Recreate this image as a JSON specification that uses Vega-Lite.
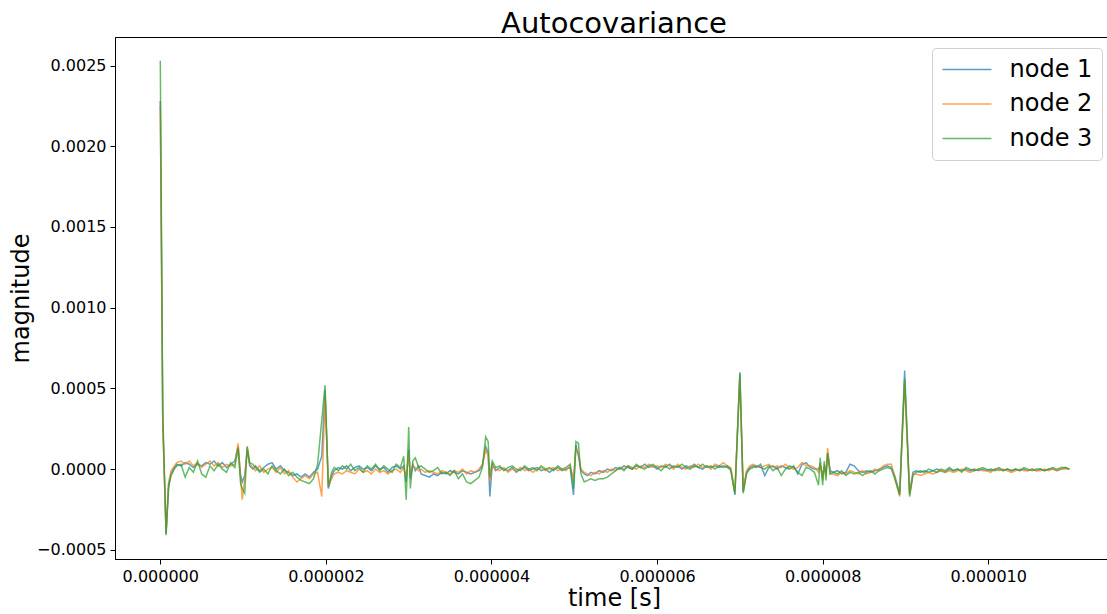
{
"$schema":"https://vega.github.io/schema/vega-lite/v6.json",
"autosize":{"type":"none"},
"padding":{"left":115,"top":37,"right":0,"bottom":55},
"width":992,"height":522,
"background":"white",
"title":{"text":"Autocovariance","font":"DejaVu Sans","fontSize":29,"fontWeight":"normal","color":"black","anchor":"middle","dx":3,"offset":-2},
"config":{"view":{"stroke":"black","strokeWidth":1},"font":"DejaVu Sans"},
"data":{"values":[
{"t":0,"node 1":228e-5,"node 2":225e-5,"node 3":253e-5},
{"t":0.03e-6,"node 1":30e-5,"node 2":27e-5,"node 3":35e-5},
{"t":0.07e-6,"node 1":-40e-5,"node 2":-39e-5,"node 3":-41e-5},
{"t":0.10e-6,"node 1":-12e-5,"node 2":-8e-5,"node 3":-10e-5},
{"t":0.13e-6,"node 1":-3e-5,"node 2":-1e-5,"node 3":-4e-5},
{"t":0.17e-6,"node 1":1e-5,"node 2":2e-5,"node 3":0},
{"t":0.20e-6,"node 1":3e-5,"node 2":4e-5,"node 3":2e-5},
{"t":0.25e-6,"node 1":2e-5,"node 2":5e-5,"node 3":3e-5},
{"t":0.30e-6,"node 1":4e-5,"node 2":3e-5,"node 3":-5e-5},
{"t":0.35e-6,"node 1":3e-5,"node 2":5e-5,"node 3":1e-5},
{"t":0.40e-6,"node 1":1e-5,"node 2":2e-5,"node 3":-2e-5},
{"t":0.45e-6,"node 1":3e-5,"node 2":4e-5,"node 3":5e-5},
{"t":0.50e-6,"node 1":2e-5,"node 2":1e-5,"node 3":-3e-5},
{"t":0.55e-6,"node 1":4e-5,"node 2":3e-5,"node 3":-5e-5},
{"t":0.60e-6,"node 1":3e-5,"node 2":5e-5,"node 3":2e-5},
{"t":0.65e-6,"node 1":5e-5,"node 2":2e-5,"node 3":-1e-5},
{"t":0.70e-6,"node 1":2e-5,"node 2":4e-5,"node 3":3e-5},
{"t":0.75e-6,"node 1":4e-5,"node 2":1e-5,"node 3":0},
{"t":0.80e-6,"node 1":1e-5,"node 2":3e-5,"node 3":-2e-5},
{"t":0.85e-6,"node 1":3e-5,"node 2":2e-5,"node 3":4e-5},
{"t":0.90e-6,"node 1":5e-5,"node 2":3e-5,"node 3":1e-5},
{"t":0.94e-6,"node 1":14e-5,"node 2":16e-5,"node 3":13e-5},
{"t":0.97e-6,"node 1":-4e-5,"node 2":-6e-5,"node 3":-9e-5},
{"t":0.99e-6,"node 1":-8e-5,"node 2":-19e-5,"node 3":-12e-5},
{"t":1.02e-6,"node 1":-4e-5,"node 2":-6e-5,"node 3":-15e-5},
{"t":1.05e-6,"node 1":12e-5,"node 2":14e-5,"node 3":14e-5},
{"t":1.08e-6,"node 1":2e-5,"node 2":3e-5,"node 3":4e-5},
{"t":1.12e-6,"node 1":0,"node 2":1e-5,"node 3":3e-5},
{"t":1.15e-6,"node 1":2e-5,"node 2":-1e-5,"node 3":1e-5},
{"t":1.20e-6,"node 1":-1e-5,"node 2":2e-5,"node 3":-2e-5},
{"t":1.25e-6,"node 1":1e-5,"node 2":-2e-5,"node 3":0},
{"t":1.30e-6,"node 1":3e-5,"node 2":0,"node 3":-3e-5},
{"t":1.35e-6,"node 1":4e-5,"node 2":1e-5,"node 3":2e-5},
{"t":1.40e-6,"node 1":0,"node 2":-2e-5,"node 3":-1e-5},
{"t":1.45e-6,"node 1":2e-5,"node 2":1e-5,"node 3":-3e-5},
{"t":1.50e-6,"node 1":-1e-5,"node 2":-3e-5,"node 3":0},
{"t":1.55e-6,"node 1":-2e-5,"node 2":-1e-5,"node 3":-4e-5},
{"t":1.60e-6,"node 1":-4e-5,"node 2":-5e-5,"node 3":-2e-5},
{"t":1.65e-6,"node 1":-3e-5,"node 2":-8e-5,"node 3":-5e-5},
{"t":1.70e-6,"node 1":-5e-5,"node 2":-6e-5,"node 3":-7e-5},
{"t":1.75e-6,"node 1":-3e-5,"node 2":-4e-5,"node 3":-8e-5},
{"t":1.80e-6,"node 1":-5e-5,"node 2":-6e-5,"node 3":-9e-5},
{"t":1.85e-6,"node 1":-2e-5,"node 2":-3e-5,"node 3":-6e-5},
{"t":1.90e-6,"node 1":0,"node 2":-2e-5,"node 3":3e-5},
{"t":1.95e-6,"node 1":8e-5,"node 2":-17e-5,"node 3":30e-5},
{"t":1.99e-6,"node 1":49e-5,"node 2":45e-5,"node 3":52e-5},
{"t":2.03e-6,"node 1":-12e-5,"node 2":-10e-5,"node 3":-11e-5},
{"t":2.07e-6,"node 1":-4e-5,"node 2":-6e-5,"node 3":-2e-5},
{"t":2.10e-6,"node 1":-1e-5,"node 2":-3e-5,"node 3":1e-5},
{"t":2.15e-6,"node 1":1e-5,"node 2":-2e-5,"node 3":-1e-5},
{"t":2.20e-6,"node 1":0,"node 2":-3e-5,"node 3":2e-5},
{"t":2.25e-6,"node 1":2e-5,"node 2":-1e-5,"node 3":0},
{"t":2.30e-6,"node 1":-1e-5,"node 2":-2e-5,"node 3":3e-5},
{"t":2.35e-6,"node 1":1e-5,"node 2":-3e-5,"node 3":-1e-5},
{"t":2.40e-6,"node 1":2e-5,"node 2":0,"node 3":1e-5},
{"t":2.45e-6,"node 1":0,"node 2":-2e-5,"node 3":-2e-5},
{"t":2.50e-6,"node 1":1e-5,"node 2":-1e-5,"node 3":2e-5},
{"t":2.55e-6,"node 1":-1e-5,"node 2":-3e-5,"node 3":0},
{"t":2.60e-6,"node 1":2e-5,"node 2":0,"node 3":3e-5},
{"t":2.65e-6,"node 1":0,"node 2":-2e-5,"node 3":-1e-5},
{"t":2.70e-6,"node 1":1e-5,"node 2":-1e-5,"node 3":2e-5},
{"t":2.75e-6,"node 1":-2e-5,"node 2":-3e-5,"node 3":0},
{"t":2.80e-6,"node 1":1e-5,"node 2":-1e-5,"node 3":-2e-5},
{"t":2.85e-6,"node 1":2e-5,"node 2":0,"node 3":3e-5},
{"t":2.90e-6,"node 1":0,"node 2":-2e-5,"node 3":1e-5},
{"t":2.94e-6,"node 1":2e-5,"node 2":1e-5,"node 3":8e-5},
{"t":2.97e-6,"node 1":-8e-5,"node 2":-5e-5,"node 3":-19e-5},
{"t":3.00e-6,"node 1":12e-5,"node 2":9e-5,"node 3":26e-5},
{"t":3.02e-6,"node 1":-6e-5,"node 2":-4e-5,"node 3":-12e-5},
{"t":3.05e-6,"node 1":3e-5,"node 2":2e-5,"node 3":5e-5},
{"t":3.08e-6,"node 1":-1e-5,"node 2":1e-5,"node 3":7e-5},
{"t":3.12e-6,"node 1":2e-5,"node 2":-1e-5,"node 3":1e-5},
{"t":3.15e-6,"node 1":-3e-5,"node 2":0,"node 3":2e-5},
{"t":3.20e-6,"node 1":-4e-5,"node 2":-2e-5,"node 3":0},
{"t":3.25e-6,"node 1":-5e-5,"node 2":-1e-5,"node 3":-2e-5},
{"t":3.30e-6,"node 1":-3e-5,"node 2":-2e-5,"node 3":-1e-5},
{"t":3.35e-6,"node 1":-4e-5,"node 2":-3e-5,"node 3":1e-5},
{"t":3.40e-6,"node 1":-2e-5,"node 2":-1e-5,"node 3":-3e-5},
{"t":3.45e-6,"node 1":-3e-5,"node 2":-2e-5,"node 3":-2e-5},
{"t":3.50e-6,"node 1":-1e-5,"node 2":-3e-5,"node 3":-4e-5},
{"t":3.55e-6,"node 1":-2e-5,"node 2":-1e-5,"node 3":-1e-5},
{"t":3.60e-6,"node 1":-3e-5,"node 2":-2e-5,"node 3":-6e-5},
{"t":3.65e-6,"node 1":-1e-5,"node 2":0,"node 3":-3e-5},
{"t":3.70e-6,"node 1":-2e-5,"node 2":-3e-5,"node 3":-8e-5},
{"t":3.75e-6,"node 1":-3e-5,"node 2":-1e-5,"node 3":-9e-5},
{"t":3.80e-6,"node 1":-2e-5,"node 2":-2e-5,"node 3":-7e-5},
{"t":3.85e-6,"node 1":-1e-5,"node 2":0,"node 3":-5e-5},
{"t":3.89e-6,"node 1":2e-5,"node 2":3e-5,"node 3":1e-5},
{"t":3.93e-6,"node 1":14e-5,"node 2":12e-5,"node 3":20e-5},
{"t":3.96e-6,"node 1":10e-5,"node 2":8e-5,"node 3":17e-5},
{"t":3.98e-6,"node 1":-17e-5,"node 2":-8e-5,"node 3":-5e-5},
{"t":4.01e-6,"node 1":3e-5,"node 2":2e-5,"node 3":5e-5},
{"t":4.05e-6,"node 1":-1e-5,"node 2":0,"node 3":1e-5},
{"t":4.10e-6,"node 1":1e-5,"node 2":-1e-5,"node 3":2e-5},
{"t":4.15e-6,"node 1":0,"node 2":1e-5,"node 3":-1e-5},
{"t":4.20e-6,"node 1":-1e-5,"node 2":-2e-5,"node 3":1e-5},
{"t":4.25e-6,"node 1":1e-5,"node 2":0,"node 3":2e-5},
{"t":4.30e-6,"node 1":-2e-5,"node 2":-1e-5,"node 3":0},
{"t":4.35e-6,"node 1":0,"node 2":1e-5,"node 3":-1e-5},
{"t":4.40e-6,"node 1":1e-5,"node 2":-1e-5,"node 3":2e-5},
{"t":4.45e-6,"node 1":-1e-5,"node 2":0,"node 3":0},
{"t":4.50e-6,"node 1":0,"node 2":-2e-5,"node 3":1e-5},
{"t":4.55e-6,"node 1":1e-5,"node 2":0,"node 3":-1e-5},
{"t":4.60e-6,"node 1":-1e-5,"node 2":1e-5,"node 3":2e-5},
{"t":4.65e-6,"node 1":0,"node 2":-1e-5,"node 3":0},
{"t":4.70e-6,"node 1":-2e-5,"node 2":0,"node 3":1e-5},
{"t":4.75e-6,"node 1":0,"node 2":1e-5,"node 3":-1e-5},
{"t":4.80e-6,"node 1":1e-5,"node 2":-1e-5,"node 3":2e-5},
{"t":4.85e-6,"node 1":-1e-5,"node 2":0,"node 3":0},
{"t":4.90e-6,"node 1":0,"node 2":-1e-5,"node 3":1e-5},
{"t":4.95e-6,"node 1":1e-5,"node 2":2e-5,"node 3":3e-5},
{"t":4.99e-6,"node 1":-16e-5,"node 2":-6e-5,"node 3":-12e-5},
{"t":5.02e-6,"node 1":15e-5,"node 2":12e-5,"node 3":17e-5},
{"t":5.05e-6,"node 1":8e-5,"node 2":10e-5,"node 3":16e-5},
{"t":5.08e-6,"node 1":-1e-5,"node 2":0,"node 3":-3e-5},
{"t":5.12e-6,"node 1":-3e-5,"node 2":-2e-5,"node 3":-8e-5},
{"t":5.16e-6,"node 1":-4e-5,"node 2":-3e-5,"node 3":-7e-5},
{"t":5.20e-6,"node 1":-2e-5,"node 2":-4e-5,"node 3":-6e-5},
{"t":5.25e-6,"node 1":-3e-5,"node 2":-2e-5,"node 3":-7e-5},
{"t":5.30e-6,"node 1":-1e-5,"node 2":-3e-5,"node 3":-6e-5},
{"t":5.35e-6,"node 1":-2e-5,"node 2":-1e-5,"node 3":-6e-5},
{"t":5.40e-6,"node 1":0,"node 2":-2e-5,"node 3":-5e-5},
{"t":5.45e-6,"node 1":-1e-5,"node 2":0,"node 3":-3e-5},
{"t":5.50e-6,"node 1":1e-5,"node 2":-1e-5,"node 3":-1e-5},
{"t":5.55e-6,"node 1":0,"node 2":1e-5,"node 3":1e-5},
{"t":5.60e-6,"node 1":2e-5,"node 2":0,"node 3":-1e-5},
{"t":5.65e-6,"node 1":1e-5,"node 2":2e-5,"node 3":2e-5},
{"t":5.70e-6,"node 1":0,"node 2":1e-5,"node 3":0},
{"t":5.75e-6,"node 1":2e-5,"node 2":0,"node 3":3e-5},
{"t":5.80e-6,"node 1":1e-5,"node 2":2e-5,"node 3":1e-5},
{"t":5.85e-6,"node 1":3e-5,"node 2":1e-5,"node 3":0},
{"t":5.90e-6,"node 1":1e-5,"node 2":3e-5,"node 3":2e-5},
{"t":5.95e-6,"node 1":2e-5,"node 2":1e-5,"node 3":3e-5},
{"t":6.00e-6,"node 1":0,"node 2":2e-5,"node 3":1e-5},
{"t":6.05e-6,"node 1":2e-5,"node 2":1e-5,"node 3":-1e-5},
{"t":6.10e-6,"node 1":1e-5,"node 2":3e-5,"node 3":2e-5},
{"t":6.15e-6,"node 1":3e-5,"node 2":2e-5,"node 3":0},
{"t":6.20e-6,"node 1":1e-5,"node 2":0,"node 3":2e-5},
{"t":6.25e-6,"node 1":2e-5,"node 2":3e-5,"node 3":1e-5},
{"t":6.30e-6,"node 1":0,"node 2":1e-5,"node 3":3e-5},
{"t":6.35e-6,"node 1":2e-5,"node 2":0,"node 3":1e-5},
{"t":6.40e-6,"node 1":1e-5,"node 2":2e-5,"node 3":0},
{"t":6.45e-6,"node 1":3e-5,"node 2":1e-5,"node 3":2e-5},
{"t":6.50e-6,"node 1":1e-5,"node 2":3e-5,"node 3":1e-5},
{"t":6.55e-6,"node 1":0,"node 2":1e-5,"node 3":3e-5},
{"t":6.60e-6,"node 1":2e-5,"node 2":2e-5,"node 3":1e-5},
{"t":6.65e-6,"node 1":1e-5,"node 2":0,"node 3":2e-5},
{"t":6.70e-6,"node 1":2e-5,"node 2":3e-5,"node 3":0},
{"t":6.75e-6,"node 1":1e-5,"node 2":2e-5,"node 3":2e-5},
{"t":6.80e-6,"node 1":2e-5,"node 2":4e-5,"node 3":1e-5},
{"t":6.85e-6,"node 1":1e-5,"node 2":2e-5,"node 3":2e-5},
{"t":6.89e-6,"node 1":0,"node 2":1e-5,"node 3":-1e-5},
{"t":6.94e-6,"node 1":-16e-5,"node 2":-14e-5,"node 3":-15e-5},
{"t":7.00e-6,"node 1":60e-5,"node 2":57e-5,"node 3":59e-5},
{"t":7.04e-6,"node 1":-14e-5,"node 2":-13e-5,"node 3":-15e-5},
{"t":7.08e-6,"node 1":-2e-5,"node 2":-1e-5,"node 3":-3e-5},
{"t":7.12e-6,"node 1":1e-5,"node 2":2e-5,"node 3":0},
{"t":7.16e-6,"node 1":2e-5,"node 2":3e-5,"node 3":1e-5},
{"t":7.20e-6,"node 1":1e-5,"node 2":2e-5,"node 3":2e-5},
{"t":7.25e-6,"node 1":3e-5,"node 2":1e-5,"node 3":1e-5},
{"t":7.30e-6,"node 1":-4e-5,"node 2":2e-5,"node 3":0},
{"t":7.35e-6,"node 1":1e-5,"node 2":3e-5,"node 3":2e-5},
{"t":7.40e-6,"node 1":2e-5,"node 2":1e-5,"node 3":-1e-5},
{"t":7.45e-6,"node 1":0,"node 2":2e-5,"node 3":1e-5},
{"t":7.50e-6,"node 1":2e-5,"node 2":1e-5,"node 3":-4e-5},
{"t":7.55e-6,"node 1":1e-5,"node 2":3e-5,"node 3":0},
{"t":7.60e-6,"node 1":0,"node 2":1e-5,"node 3":2e-5},
{"t":7.65e-6,"node 1":2e-5,"node 2":0,"node 3":1e-5},
{"t":7.70e-6,"node 1":-3e-5,"node 2":1e-5,"node 3":-2e-5},
{"t":7.75e-6,"node 1":3e-5,"node 2":4e-5,"node 3":-4e-5},
{"t":7.80e-6,"node 1":4e-5,"node 2":2e-5,"node 3":1e-5},
{"t":7.85e-6,"node 1":1e-5,"node 2":2e-5,"node 3":0},
{"t":7.90e-6,"node 1":0,"node 2":1e-5,"node 3":-2e-5},
{"t":7.95e-6,"node 1":0,"node 2":-2e-5,"node 3":-10e-5},
{"t":7.97e-6,"node 1":2e-5,"node 2":4e-5,"node 3":7e-5},
{"t":8.00e-6,"node 1":-3e-5,"node 2":-7e-5,"node 3":-10e-5},
{"t":8.02e-6,"node 1":1e-5,"node 2":3e-5,"node 3":5e-5},
{"t":8.04e-6,"node 1":-2e-5,"node 2":-4e-5,"node 3":-7e-5},
{"t":8.06e-6,"node 1":10e-5,"node 2":13e-5,"node 3":10e-5},
{"t":8.09e-6,"node 1":-1e-5,"node 2":-3e-5,"node 3":-3e-5},
{"t":8.13e-6,"node 1":-2e-5,"node 2":-3e-5,"node 3":-2e-5},
{"t":8.18e-6,"node 1":-1e-5,"node 2":-4e-5,"node 3":-3e-5},
{"t":8.23e-6,"node 1":-3e-5,"node 2":-2e-5,"node 3":-1e-5},
{"t":8.28e-6,"node 1":-2e-5,"node 2":-3e-5,"node 3":-4e-5},
{"t":8.33e-6,"node 1":3e-5,"node 2":-1e-5,"node 3":-2e-5},
{"t":8.38e-6,"node 1":2e-5,"node 2":-2e-5,"node 3":-3e-5},
{"t":8.43e-6,"node 1":-1e-5,"node 2":-3e-5,"node 3":-2e-5},
{"t":8.48e-6,"node 1":-2e-5,"node 2":-1e-5,"node 3":-4e-5},
{"t":8.53e-6,"node 1":-1e-5,"node 2":-3e-5,"node 3":-2e-5},
{"t":8.58e-6,"node 1":-2e-5,"node 2":-2e-5,"node 3":-1e-5},
{"t":8.63e-6,"node 1":-1e-5,"node 2":0,"node 3":-3e-5},
{"t":8.68e-6,"node 1":0,"node 2":-1e-5,"node 3":-1e-5},
{"t":8.73e-6,"node 1":1e-5,"node 2":2e-5,"node 3":0},
{"t":8.78e-6,"node 1":2e-5,"node 2":3e-5,"node 3":1e-5},
{"t":8.83e-6,"node 1":1e-5,"node 2":3e-5,"node 3":0},
{"t":8.87e-6,"node 1":-4e-5,"node 2":-5e-5,"node 3":-6e-5},
{"t":8.93e-6,"node 1":-15e-5,"node 2":-17e-5,"node 3":-16e-5},
{"t":8.99e-6,"node 1":61e-5,"node 2":54e-5,"node 3":56e-5},
{"t":9.05e-6,"node 1":-15e-5,"node 2":-16e-5,"node 3":-17e-5},
{"t":9.09e-6,"node 1":-2e-5,"node 2":-3e-5,"node 3":-4e-5},
{"t":9.13e-6,"node 1":-1e-5,"node 2":-3e-5,"node 3":-2e-5},
{"t":9.18e-6,"node 1":-2e-5,"node 2":-4e-5,"node 3":-1e-5},
{"t":9.23e-6,"node 1":-1e-5,"node 2":-3e-5,"node 3":-2e-5},
{"t":9.28e-6,"node 1":-2e-5,"node 2":-2e-5,"node 3":0},
{"t":9.33e-6,"node 1":-1e-5,"node 2":-3e-5,"node 3":-1e-5},
{"t":9.38e-6,"node 1":0,"node 2":-2e-5,"node 3":-2e-5},
{"t":9.43e-6,"node 1":-1e-5,"node 2":-1e-5,"node 3":0},
{"t":9.48e-6,"node 1":-2e-5,"node 2":-2e-5,"node 3":-1e-5},
{"t":9.53e-6,"node 1":0,"node 2":-1e-5,"node 3":1e-5},
{"t":9.58e-6,"node 1":-1e-5,"node 2":-2e-5,"node 3":-1e-5},
{"t":9.63e-6,"node 1":0,"node 2":-1e-5,"node 3":0},
{"t":9.68e-6,"node 1":-1e-5,"node 2":0,"node 3":-2e-5},
{"t":9.73e-6,"node 1":0,"node 2":-1e-5,"node 3":1e-5},
{"t":9.78e-6,"node 1":-1e-5,"node 2":-2e-5,"node 3":0},
{"t":9.83e-6,"node 1":0,"node 2":-1e-5,"node 3":-1e-5},
{"t":9.88e-6,"node 1":-1e-5,"node 2":0,"node 3":0},
{"t":9.93e-6,"node 1":0,"node 2":-1e-5,"node 3":1e-5},
{"t":9.98e-6,"node 1":-1e-5,"node 2":-1e-5,"node 3":0},
{"t":10.03e-6,"node 1":0,"node 2":-2e-5,"node 3":-1e-5},
{"t":10.08e-6,"node 1":-1e-5,"node 2":0,"node 3":0},
{"t":10.13e-6,"node 1":0,"node 2":-1e-5,"node 3":1e-5},
{"t":10.18e-6,"node 1":-1e-5,"node 2":0,"node 3":-1e-5},
{"t":10.23e-6,"node 1":0,"node 2":-1e-5,"node 3":0},
{"t":10.28e-6,"node 1":-1e-5,"node 2":-2e-5,"node 3":-1e-5},
{"t":10.33e-6,"node 1":0,"node 2":-1e-5,"node 3":0},
{"t":10.38e-6,"node 1":-1e-5,"node 2":0,"node 3":-1e-5},
{"t":10.43e-6,"node 1":0,"node 2":-1e-5,"node 3":1e-5},
{"t":10.48e-6,"node 1":-1e-5,"node 2":-1e-5,"node 3":0},
{"t":10.53e-6,"node 1":0,"node 2":0,"node 3":-1e-5},
{"t":10.58e-6,"node 1":-1e-5,"node 2":-1e-5,"node 3":0},
{"t":10.63e-6,"node 1":0,"node 2":-1e-5,"node 3":0},
{"t":10.68e-6,"node 1":-1e-5,"node 2":0,"node 3":-1e-5},
{"t":10.73e-6,"node 1":0,"node 2":-1e-5,"node 3":0},
{"t":10.78e-6,"node 1":0,"node 2":0,"node 3":1e-5},
{"t":10.83e-6,"node 1":-1e-5,"node 2":-1e-5,"node 3":0},
{"t":10.88e-6,"node 1":0,"node 2":0,"node 3":1e-5},
{"t":10.93e-6,"node 1":1e-5,"node 2":0,"node 3":1e-5},
{"t":10.98e-6,"node 1":0,"node 2":0,"node 3":0}
]},
"transform":[{"fold":["node 1","node 2","node 3"],"as":["node","v"]}],
"mark":{"type":"line","strokeWidth":1.5,"opacity":0.72,"clip":true},
"encoding":{
"x":{"field":"t","type":"quantitative","scale":{"domain":[-0.547e-6,11.434e-6],"nice":false,"zero":false},
"axis":{"title":"time [s]","values":[0,2e-6,4e-6,6e-6,8e-6,1e-5],"format":".6f","grid":false,"labelFont":"DejaVu Sans","labelFontSize":16,"labelColor":"black","tickColor":"black","tickSize":5,"domainColor":"black","labelPadding":4,"titleFont":"DejaVu Sans","titleFontSize":24,"titleFontWeight":"normal","titleColor":"black","titlePadding":2,"titleX":499,"labelFlush":false}},
"y":{"field":"v","type":"quantitative","scale":{"domain":[-0.000557,0.002677],"nice":false,"zero":false},
"axis":{"title":"magnitude","values":[-0.0005,0,0.0005,0.001,0.0015,0.002,0.0025],"format":".4f","grid":false,"labelFont":"DejaVu Sans","labelFontSize":16,"labelColor":"black","tickColor":"black","tickSize":5,"domainColor":"black","labelPadding":4,"titleFont":"DejaVu Sans","titleFontSize":24,"titleFontWeight":"normal","titleColor":"black","titlePadding":3,"labelFlush":false}},
"color":{"field":"node","type":"nominal","scale":{"domain":["node 1","node 2","node 3"],"range":["#1f77b4","#ff7f0e","#2ca02c"]},
"legend":{"title":null,"orient":"none","legendX":817,"legendY":11,"symbolType":"stroke","symbolSize":2400,"symbolStrokeWidth":1.5,"symbolOpacity":0.72,"labelFont":"DejaVu Sans","labelFontSize":24,"labelColor":"black","labelOffset":17,"clipHeight":24,"rowPadding":10.5,"padding":9.5,"strokeColor":"#d0d0d0","fillColor":"white","cornerRadius":4}}
}
}
